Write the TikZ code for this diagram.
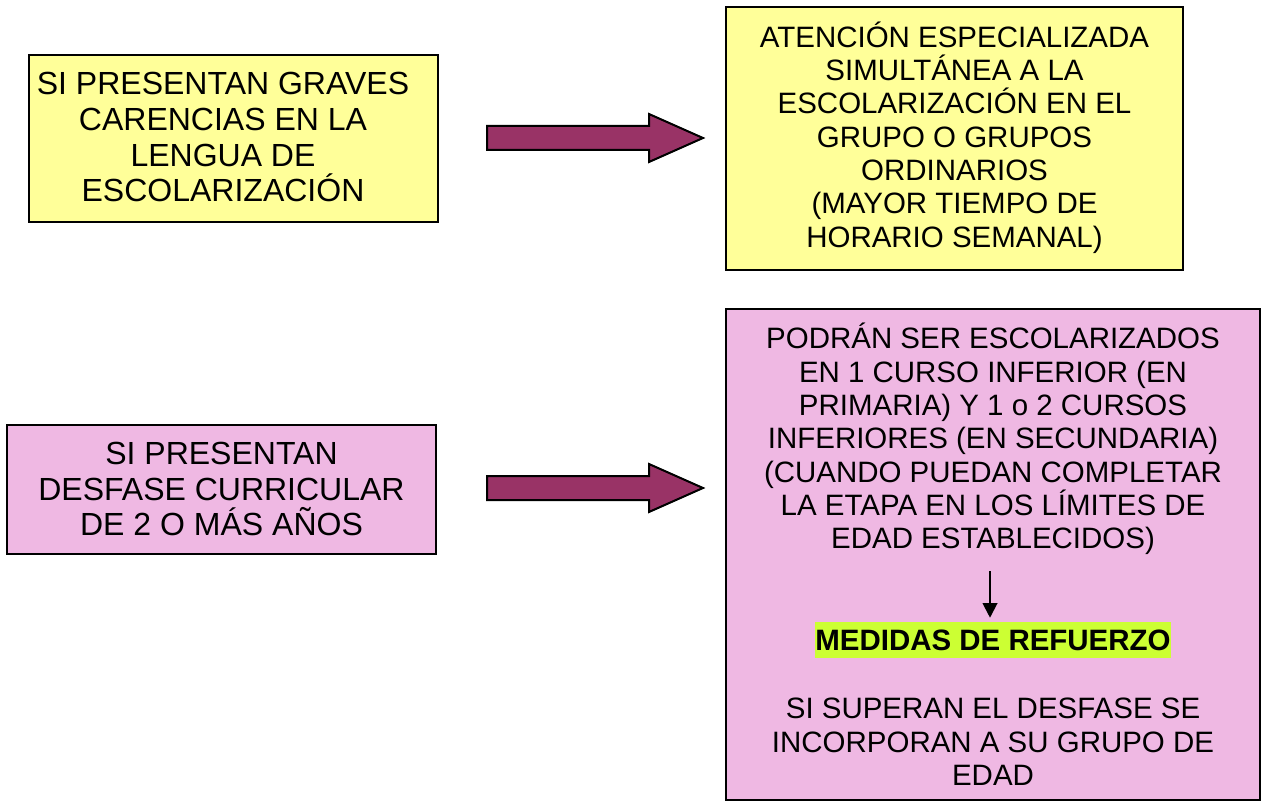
\documentclass[tikz,border=0pt]{standalone}
\usepackage{fontspec}
\setmainfont{Liberation Sans}
\usetikzlibrary{arrows.meta,positioning,calc}
\definecolor{boxyellow}{HTML}{FFFF99}
\definecolor{boxpink}{HTML}{EFB8E3}
\definecolor{arrowred}{HTML}{993366}
\definecolor{marker}{HTML}{CCFF33}
\tikzset{
  box/.style={draw=black, line width=1.5pt, inner sep=0pt},
  yellowbox/.style={box, fill=boxyellow},
  pinkbox/.style={box, fill=boxpink},
  txt/.style={align=center, inner sep=0pt, execute at begin node=\strut},
  lfont/.style={font=\fontsize{24}{26.7}\selectfont},
  rfont/.style={font=\fontsize{22.1}{25}\selectfont},
  bigarrow/.style={draw=black, line width=1.5pt, fill=arrowred, line join=miter},
  arrow/.style={-{Triangle[length=11pt, width=11pt]}, line width=1.5pt},
}

\begin{document}
\begin{tikzpicture}[x=0.75pt, y=-0.75pt]
  \useasboundingbox (0,0) rectangle (1266,805);

  % situaciones
  \node[yellowbox, minimum width=306.75pt, minimum height=125.25pt] (sit1) at (233.5,138.5) {};
  \node[txt, lfont] (sit1txt) at (223,142.5)
    {SI PRESENTAN GRAVES\\CARENCIAS EN LA\\LENGUA DE\\ESCOLARIZACIÓN};
  \node[pinkbox, minimum width=321.75pt, minimum height=96.75pt] (sit2) at (221.5,489.5) {};
  \node[txt, lfont] (sit2txt) at (221.5,494.5)
    {SI PRESENTAN\\DESFASE CURRICULAR\\DE 2 O MÁS AÑOS};

  % respuestas
  \node[yellowbox, minimum width=342.75pt, minimum height=197.25pt] (res1) at (954.5,138.5) {};
  \node[txt, rfont] (res1txt) at (954.5,139.5)
    {ATENCIÓN ESPECIALIZADA\\SIMULTÁNEA A LA\\ESCOLARIZACIÓN EN EL\\GRUPO O GRUPOS\\ORDINARIOS\\(MAYOR TIEMPO DE\\HORARIO SEMANAL)};
  \node[pinkbox, minimum width=400.5pt, minimum height=368.25pt] (res2) at (993,554.5) {};
  \node[txt, rfont] (res2top) at (993,441)
    {PODRÁN SER ESCOLARIZADOS\\EN 1 CURSO INFERIOR (EN\\PRIMARIA) Y 1 o 2 CURSOS\\INFERIORES (EN SECUNDARIA)\\(CUANDO PUEDAN COMPLETAR\\LA ETAPA EN LOS LÍMITES DE\\EDAD ESTABLECIDOS)};
  \node[fill=marker, inner xsep=0.5pt, inner ysep=0pt, text height=21.6pt, text depth=5.4pt,
    font=\fontsize{22.1}{25}\selectfont\bfseries] (medidas) at (993,640) {MEDIDAS DE REFUERZO};
  \node[txt, rfont] (res2bot) at (993,747)
    {SI SUPERAN EL DESFASE SE\\INCORPORAN A SU GRUPO DE\\EDAD};

  \draw[arrow, shorten <=9pt, shorten >=3pt] ([xshift=-2.25pt]res2top.south) -- ([xshift=-2.25pt]medidas.north);

  % flechas grandes
  \draw[bigarrow] ($(sit1.east)+(48,-12.5)$) -- ++(162,0) -- ++(0,-12) -- ++(54,24) -- ++(-54,24)
    -- ++(0,-12) -- ++(-162,0) -- cycle;
  \draw[bigarrow] ($(sit2.east)+(50,-13.5)$) -- ++(162,0) -- ++(0,-12) -- ++(54,24) -- ++(-54,24)
    -- ++(0,-12) -- ++(-162,0) -- cycle;
\end{tikzpicture}
\end{document}
